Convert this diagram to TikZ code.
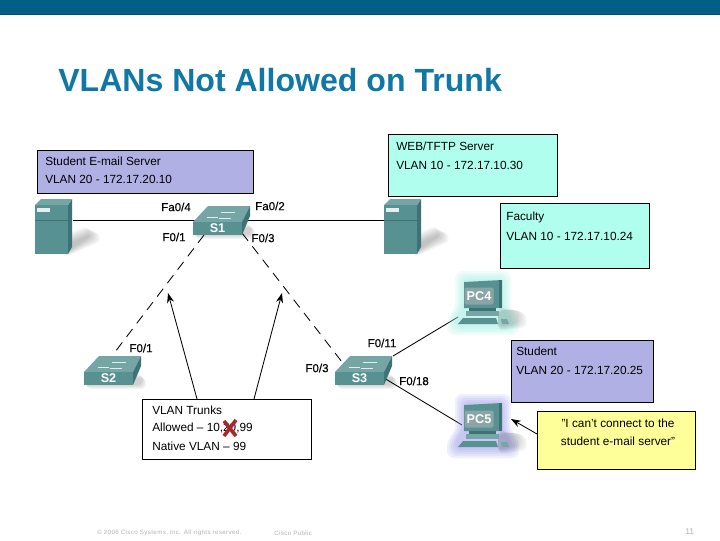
\documentclass[tikz,border=0pt]{standalone}
\usepackage{fontspec}
\setmainfont{Liberation Sans}
\newfontfamily\portfont[FakeBold=0.35]{Liberation Sans}
\newfontfamily\footfont[LetterSpace=6]{Liberation Sans}
\usepackage{xcolor}
\usetikzlibrary{arrows.meta}
\definecolor{bandblue}{RGB}{0,95,135}
\definecolor{titleblue}{RGB}{15,120,165}
\definecolor{boxpurple}{RGB}{176,176,228}
\definecolor{boxaqua}{RGB}{176,255,238}
\definecolor{boxyellow}{RGB}{255,255,153}
\definecolor{iconfront}{RGB}{88,145,146}
\definecolor{icontop}{RGB}{118,165,165}
\definecolor{iconside}{RGB}{62,115,118}
\definecolor{iconscreen}{RGB}{138,165,166}
\definecolor{crossred}{RGB}{165,40,45}
\tikzset{
  infobox/.style={draw=black, line width=0.6pt, anchor=north west, inner sep=0pt},
  boxtext/.style={anchor=west, inner sep=0pt, font=\fontsize{8.4}{10}\selectfont},
  portlabel/.style={inner sep=0pt, font=\portfont\fontsize{8.2}{10}\selectfont},
  iconlabel/.style={inner sep=0pt, text=white, font=\bfseries\fontsize{9}{10}\selectfont},
  footer/.style={anchor=west, inner sep=0pt, text=black!30, font=\footfont\fontsize{4.4}{5}\selectfont},
  link/.style={line width=0.6pt},
  trunk/.style={line width=0.6pt, dash pattern=on 7pt off 5pt},
  pointer/.style={line width=0.6pt, -{Stealth[length=7pt,width=5pt]}}
}
% switch: #1 name, #2 top left corner, #3 text
\newcommand{\switchicon}[3]{%
  \begin{scope}[shift={#2}]
    \foreach \g in {1,2,...,5}
      \fill[black, opacity=0.04, rounded corners=3pt] ({\g-2},{17+\g}) rectangle ({57+\g},{28+\g});
    \fill[icontop] (0,16) -- (15,0) -- (57,0) -- (49,16) -- cycle;
    \fill[iconside] (49,16) -- (57,0) -- (57,10) -- (49,29) -- cycle;
    \draw[white!80!icontop, line width=0.5pt] (14,11) -- (25,11) (28,6) -- (42,6) (26,12) -- (38,12);
    \node[fill=iconfront, iconlabel, minimum width=1.225cm, minimum height=0.325cm] (#1) at (24.5,22.5) {#3};
  \end{scope}}
% computer: #1 name, #2 top left corner, #3 glow colour, #4 text
\newcommand{\pcicon}[4]{%
  \begin{scope}[shift={#2}]
    \foreach \g in {1,3,...,9}
      \fill[#3, opacity=0.14, rounded corners=5pt] ({6-\g},{-\g}) -- ({44+\g},{-\g}) -- ({44+\g},{30}) -- ({52+\g},{36}) -- ({52+\g},{46+\g}) -- ({-2-\g},{46+\g}) -- ({-2-\g},{36}) -- ({6-\g},{30}) -- cycle;
    \foreach \g in {2,4,...,10}
      \fill[black, opacity=0.035, rounded corners=4pt] (40,{32-\g/2}) -- ({58+\g},{28+\g/2}) -- ({60+\g},{42+\g/2}) -- (40,{46+\g/2}) -- cycle;
    \fill[iconfront] (6,2) -- (44,0) -- (44,28) -- (6,28) -- cycle;
    \fill[iconside] (41,0) -- (44,0) -- (44,28) -- (41,28) -- cycle;
    \fill[iconside] (11,28) -- (38,28) -- (38,31) -- (11,31) -- cycle;
    \fill[icontop] (8,31) -- (41,31) -- (41,36) -- (8,36) -- cycle;
    \fill[iconfront] (5,38) -- (38,38) -- (40,44) -- (0,44) -- cycle;
    \fill[icontop] (43,39) -- (49,39) -- (51,44) -- (44,44) -- cycle;
    \node[fill=iconscreen, iconlabel, rounded corners=1pt, minimum width=0.725cm, minimum height=0.425cm] (#1) at (21,16) {#4};
  \end{scope}}
% server: #1 name, #2 top left corner
\newcommand{\servericon}[2]{%
  \begin{scope}[shift={#2}]
    \foreach \g in {2,4,...,12}
      \fill[black, opacity=0.045, rounded corners=3pt] (30,{34+\g}) -- ({50+\g},{26+\g/2}) -- ({54+\g},{36+\g/2}) -- (30,{54+\g/3}) -- cycle;
    \fill[iconside] (33,6) -- (37,0) -- (37,48) -- (33,55) -- cycle;
    \fill[icontop] (0,6) -- (6,0) -- (37,0) -- (33,6) -- cycle;
    \node[fill=iconfront, inner sep=0pt, minimum width=0.825cm, minimum height=1.225cm] (#1) at (16.5,30.5) {};
    \draw[iconside, line width=0.4pt] (0,21) -- (33,21);
    \fill[white!85!iconfront] (2,9) rectangle (15,13);
  \end{scope}}

\begin{document}
\begin{tikzpicture}[x=0.025cm, y=-0.025cm]
    \useasboundingbox (0,0) rectangle (720,540);
    % top band and title
    \fill[bandblue] (0,0) rectangle (720,14);
    \fill[bandblue!80!black] (0,14) rectangle (720,15);
    \node[anchor=base west, inner sep=0pt, text=titleblue, font=\bfseries\fontsize{22.8}{27}\selectfont] (title) at (58,91) {VLANs Not Allowed on Trunk};
    % link ends
    \coordinate (srvmailport) at (73,220);
    \coordinate (srvwebport) at (384,220);
    \coordinate (sonedownl) at (204,235);
    \coordinate (sonedownr) at (242,233);
    \coordinate (stwoup) at (115,352);
    \coordinate (sthreeup) at (342,362);
    \coordinate (sthreepcd) at (393,356);
    \coordinate (sthreepce) at (384,378);
    \coordinate (pcdport) at (458,317);
    \coordinate (pceport) at (462,425);
    \coordinate (tipleft) at (168,293);
    \coordinate (tipright) at (282,293);
    \coordinate (trunkl) at (197,399);
    \coordinate (trunkr) at (254,399);
    \coordinate (tippce) at (511,419);
    % links
    \draw[link] (srvmailport) -- (srvwebport);
    \draw[trunk] (sonedownl) -- (stwoup);
    \draw[trunk] (sonedownr) -- (sthreeup);
    \draw[link] (sthreepcd) -- (pcdport);
    \draw[link] (sthreepce) -- (pceport);
    % devices
    \servericon{srvmail}{(35,199)}
    \servericon{srvweb}{(384,199)}
    \switchicon{sone}{(193,206)}{S1}
    \switchicon{stwo}{(84,356)}{S2}
    \switchicon{sthree}{(335,356)}{S3}
    \pcicon{pcd}{(458,280)}{boxaqua!85!teal}{PC4}
    \pcicon{pce}{(458,403)}{boxpurple!85!blue}{PC5}
    % port labels
    \node[portlabel] (fafour) at (176,207) {Fa0/4};
    \node[portlabel] (fatwo) at (270,206) {Fa0/2};
    \node[portlabel] (sonef) at (174,237) {F0/1};
    \node[portlabel] (sonet) at (263,238) {F0/3};
    \node[portlabel] (stwof) at (141,348) {F0/1};
    \node[portlabel] (sthreet) at (317,368) {F0/3};
    \node[portlabel] (sthreee) at (382,343) {F0/11};
    \node[portlabel] (sthreeh) at (414,381) {F0/18};
    % text boxes
    \node[infobox, fill=boxpurple, minimum width=5.4cm, minimum height=1.075cm] (mailbox) at (37,150) {};
    \node[boxtext] (mailone) at (45,161) {Student E-mail Server};
    \node[boxtext] (mailtwo) at (45,179) {VLAN 20 - 172.17.20.10};
    \node[infobox, fill=boxaqua, minimum width=4.225cm, minimum height=1.55cm] (webbox) at (388,134) {};
    \node[boxtext] (webone) at (396,146) {WEB/TFTP Server};
    \node[boxtext] (webtwo) at (396,165) {VLAN 10 - 172.17.10.30};
    \node[infobox, fill=boxaqua, minimum width=3.725cm, minimum height=1.625cm] (facbox) at (500,203) {};
    \node[boxtext] (facone) at (506,217) {Faculty};
    \node[boxtext] (factwo) at (506,236) {VLAN 10 - 172.17.10.24};
    \node[infobox, fill=boxpurple, minimum width=3.55cm, minimum height=1.55cm] (stubox) at (511,340) {};
    \node[boxtext] (stuone) at (516,351) {Student};
    \node[boxtext] (stutwo) at (516,370) {VLAN 20 - 172.17.20.25};
    \node[infobox, fill=boxyellow, minimum width=3.95cm, minimum height=1.45cm] (saybox) at (537,411) {};
    \node[boxtext, anchor=center] (sayone) at (618,423) {"I can\symbol{39}t connect to the};
    \node[boxtext, anchor=center] (saytwo) at (618,441) {student e-mail server"};
    \coordinate (saytail) at (537,434);
    \draw[pointer] (saytail) -- (tippce);
    % trunk box
    \node[infobox, fill=white, minimum width=4.225cm, minimum height=1.5cm] (trunkbox) at (142,399) {};
    \node[boxtext] (trunkone) at (152,410) {VLAN Trunks};
    \node[boxtext] (trunktwo) at (152,428) {Allowed – 10,20,99};
    \node[boxtext] (trunkthree) at (152,446) {Native VLAN – 99};
    \draw[pointer] (trunkl) -- (tipleft);
    \draw[pointer] (trunkr) -- (tipright);
    % red cross
    \draw[crossred, line width=2.6pt] (224,421) -- (236,436) (236,420) -- (224,436);
    % footer
    \node[footer] (copyr) at (97,533) {© 2006 Cisco Systems, Inc. All rights reserved.};
    \node[footer] (public) at (274,533) {Cisco Public};
    \node[footer, font=\fontsize{6}{7}\selectfont] (pagenum) at (685,532) {11};
\end{tikzpicture}
\end{document}
